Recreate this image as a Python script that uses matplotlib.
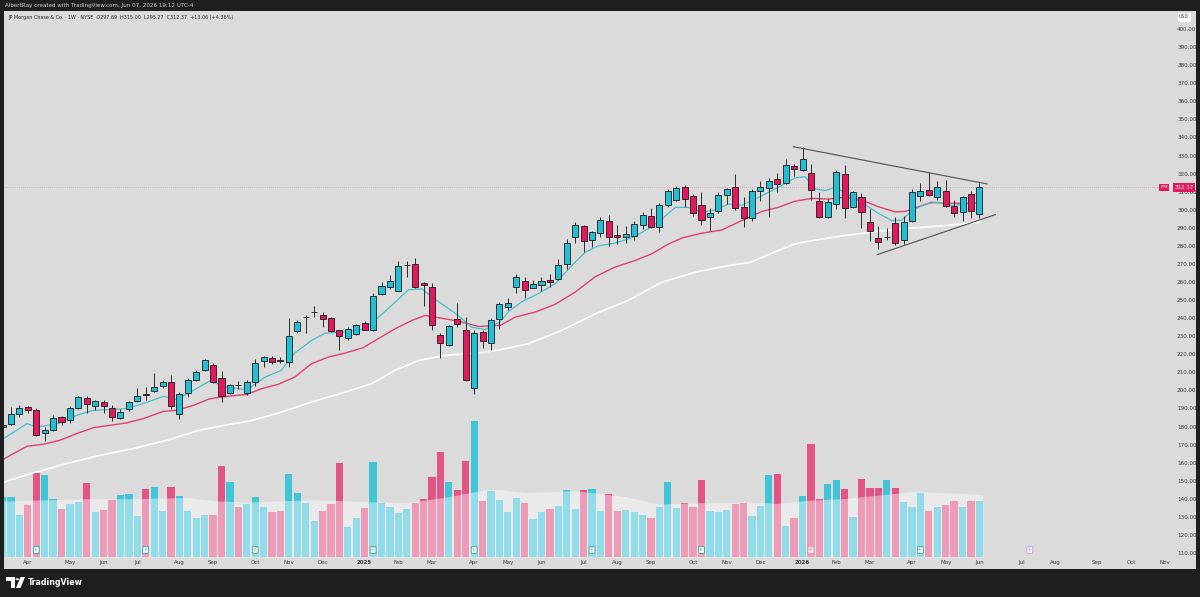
import matplotlib
matplotlib.use('Agg')
import matplotlib.pyplot as plt
import matplotlib.transforms as mtransforms
from matplotlib.patches import Rectangle, Circle, Polygon
from matplotlib.ticker import FuncFormatter
import numpy as np

plt.rcParams['font.family'] = ['DejaVu Sans']

# ---------------- data (weekly bars, first bar = week of 2024-03-11) ----------------
opens = [179.5, 181.6, 187.2, 190.8, 189.4, 176.5, 177.9, 185.1, 183.5, 190.5,
         195.6, 191.4, 193.6, 190.5, 184.9, 189.6, 194.2, 197.9, 199.5, 202.4,
         204.8, 187.2, 198.6, 205.9, 211.1, 214.0, 207.1, 198.6, 203.1, 198.5,
         204.6, 216.3, 218.1, 216.7, 215.7, 232.8, 240.6, 243.2, 242.0, 240.0,
         233.2, 228.8, 231.2, 237.4, 233.2, 253.3, 257.5, 255.3, 269.4, 270.0,
         259.2, 257.5, 230.4, 224.9, 239.5, 233.2, 201.5, 232.3, 226.2, 239.6,
         246.1, 257.5, 260.3, 256.8, 258.1, 261.0, 261.7, 270.0, 284.8, 291.2,
         283.3, 287.2, 294.0, 286.2, 284.8, 285.7, 291.8, 296.4, 290.7, 302.8,
         305.2, 312.8, 307.4, 302.8, 295.8, 299.5, 308.2, 312.4, 301.3, 295.5,
         310.2, 312.0, 317.0, 314.8, 324.2, 322.2, 320.3, 305.0, 296.2, 303.2,
         319.8, 301.3, 307.2, 293.4, 284.2, 284.8, 292.9, 283.0, 293.9, 307.8,
         310.9, 306.9, 310.6, 302.3, 298.6, 308.7, 297.69]
highs = [182.0, 190.8, 191.8, 191.2, 190.5, 179.8, 186.2, 185.7, 191.2, 196.7,
         196.7, 194.9, 194.5, 191.8, 189.9, 194.2, 201.5, 201.9, 209.6, 205.9,
         208.3, 199.1, 207.0, 211.1, 217.2, 215.2, 210.5, 203.7, 205.2, 205.6,
         217.6, 218.8, 218.8, 218.5, 240.2, 239.1, 241.5, 246.5, 243.3, 240.9,
         233.6, 235.0, 236.9, 238.4, 254.0, 259.9, 264.1, 271.5, 271.9, 273.2,
         259.8, 259.3, 231.7, 236.3, 248.5, 240.9, 233.2, 233.6, 240.2, 248.9,
         251.1, 264.5, 263.0, 261.2, 263.0, 264.5, 272.8, 283.8, 293.0, 291.8,
         288.4, 295.8, 297.3, 291.8, 291.2, 294.0, 298.6, 301.0, 303.5, 311.5,
         313.3, 313.9, 308.7, 309.6, 301.0, 309.6, 312.0, 319.8, 306.9, 311.5,
         315.7, 317.6, 320.1, 328.0, 325.3, 334.5, 325.3, 309.6, 305.9, 322.0,
         324.9, 310.6, 309.1, 300.4, 291.2, 289.9, 295.8, 296.7, 311.5, 315.0,
         320.7, 316.1, 316.4, 305.4, 307.8, 310.2, 315.00]
lows = [178.5, 180.7, 185.3, 187.5, 174.8, 172.1, 177.6, 180.7, 182.0, 189.9,
        187.5, 189.0, 187.5, 183.1, 184.4, 188.6, 193.6, 194.5, 199.1, 201.5,
        189.9, 184.4, 196.4, 205.2, 210.7, 204.1, 193.6, 197.8, 201.0, 197.3,
        202.3, 212.9, 214.8, 215.2, 212.9, 231.7, 231.7, 240.9, 235.0, 232.3,
        222.5, 227.7, 230.6, 233.2, 232.8, 252.9, 256.2, 254.9, 262.7, 256.8,
        247.0, 233.6, 218.1, 224.4, 235.0, 205.0, 198.2, 223.6, 222.2, 234.1,
        244.6, 253.8, 251.2, 256.6, 255.3, 257.5, 261.2, 267.3, 281.5, 276.5,
        279.2, 285.1, 280.2, 281.1, 281.5, 283.3, 289.4, 289.9, 287.5, 301.7,
        304.7, 301.7, 296.7, 291.8, 288.4, 298.3, 303.2, 299.9, 290.3, 294.0,
        305.0, 296.2, 309.6, 314.2, 318.8, 321.6, 305.4, 295.5, 295.5, 300.4,
        295.5, 300.8, 289.9, 282.9, 278.3, 283.5, 280.7, 281.1, 293.2, 305.0,
        307.8, 305.4, 301.3, 296.2, 294.0, 295.5, 295.27]
closes = [181.0, 187.2, 190.5, 189.4, 175.2, 178.3, 184.9, 182.6, 190.5, 196.4,
          192.3, 194.2, 191.4, 185.3, 188.3, 193.6, 197.1, 197.5, 202.1, 204.8,
          191.4, 198.2, 205.9, 210.2, 216.6, 204.8, 196.7, 203.0, 202.9, 204.7,
          215.3, 218.5, 215.7, 216.5, 229.9, 238.0, 240.9, 243.4, 239.6, 232.8,
          230.3, 233.8, 236.0, 233.6, 252.5, 257.9, 260.6, 268.9, 269.6, 257.5,
          258.1, 236.0, 226.2, 235.6, 236.9, 205.9, 231.9, 227.3, 238.7, 247.6,
          248.5, 262.7, 255.8, 259.0, 260.6, 259.9, 269.6, 281.6, 291.8, 282.6,
          287.5, 294.5, 285.1, 284.8, 286.6, 292.1, 297.3, 290.3, 302.8, 310.5,
          311.8, 306.0, 298.2, 294.5, 298.0, 308.3, 311.5, 301.0, 295.4, 310.6,
          312.4, 316.1, 314.2, 324.9, 322.5, 328.0, 310.9, 296.2, 304.5, 320.7,
          301.0, 309.6, 298.6, 288.1, 282.0, 285.0, 281.5, 293.4, 310.0, 310.6,
          308.3, 312.8, 302.3, 298.0, 306.9, 299.31, 312.37]
# weekly volume, millions (approx.)
volumes = [30.0, 30.2, 21.0, 26.0, 42.2, 41.0, 29.0, 24.0, 26.5, 27.4,
           37.2, 22.7, 23.7, 28.5, 31.0, 31.4, 20.5, 34.0, 35.2, 22.9,
           34.9, 30.7, 23.2, 19.5, 21.0, 21.2, 45.5, 37.4, 25.2, 26.5,
           30.2, 25.2, 22.7, 23.2, 41.5, 31.9, 27.2, 18.2, 23.2, 26.5,
           47.2, 15.2, 19.4, 24.7, 47.7, 26.9, 25.2, 22.2, 23.9, 26.9,
           29.2, 39.9, 52.7, 37.7, 33.5, 48.0, 68.2, 28.0, 33.2, 28.5,
           22.4, 29.4, 26.9, 19.0, 22.7, 24.0, 25.5, 33.5, 24.2, 33.5,
           34.0, 22.9, 31.5, 22.9, 23.5, 22.4, 21.0, 19.7, 25.2, 37.7,
           24.7, 26.9, 24.9, 38.5, 23.0, 22.7, 23.5, 26.5, 26.9, 20.7,
           25.7, 41.0, 41.4, 15.5, 19.4, 30.5, 56.5, 28.9, 36.5, 38.5,
           34.0, 19.9, 38.9, 34.4, 34.7, 38.5, 34.4, 27.7, 25.2, 31.9,
           23.2, 24.9, 26.0, 28.0, 25.2, 28.2, 28.0]
first_week = -1  # index of the first (partly hidden) bar

# volume moving average (week index, millions)
vol_ma_week = [-1, 3, 9, 15, 21, 24, 28, 36, 42, 47, 52, 56, 58, 61, 67, 73, 77,
               81, 88, 91, 95, 99, 103, 107, 111, 115.4]
vol_ma = [28.0, 28.5, 29.2, 29.2, 29.8, 28.2, 27.5, 28.8, 27.7, 27.2, 30.2, 33.5,
          33.8, 32.3, 33.2, 30.2, 26.5, 27.2, 27.5, 26.9, 28.5, 29.3, 31.0, 32.7,
          32.2, 31.3]

# moving averages of price (week index, value)
ma_fast_week = [-1, 1.9, 3.05, 3.84, 5.8, 7.8, 9.8, 11.8, 13.7, 15.7, 18.1, 19.7, 21.7,
                23.6, 25.6, 28.0, 30.2, 32.1, 33.7, 35.7, 37.3, 39.7, 41.6, 43.2, 45.2,
                47.2, 48.8, 50.0, 51.6, 53.1, 54.7, 56.3, 58.1, 59.1, 60.6, 62.6, 64.6,
                66.6, 68.2, 69.8, 71.7, 73.7, 75.7, 77.3, 78.9, 80.4, 82.0, 83.6, 85.2,
                86.8, 89.2, 91.1, 93.1, 94.3, 95.5, 96.7, 97.9, 99.0, 101.0, 103.0,
                104.6, 105.8, 107.0, 108.6, 110.1, 111.7, 113.3, 115.0]
ma_fast = [173.0, 181.6, 179.8, 180.2, 182.0, 186.2, 189.0, 189.4, 189.9, 192.7, 196.7,
           194.9, 200.1, 205.2, 201.9, 200.3, 207.4, 211.1, 220.7, 227.7, 231.7, 232.3,
           233.6, 238.7, 247.0, 255.7, 256.2, 251.6, 246.5, 241.5, 235.0, 233.7, 238.0,
           243.7, 248.9, 253.5, 259.0, 269.1, 276.5, 280.1, 281.5, 284.4, 289.4, 294.9,
           301.3, 301.3, 298.6, 299.9, 303.2, 302.5, 307.8, 312.4, 317.6, 318.3, 311.5,
           310.6, 312.4, 309.6, 304.1, 298.0, 294.0, 294.3, 299.5, 303.2, 304.1, 302.3,
           303.2, 304.1]
ma_mid_week = [-1, 1.9, 3.84, 5.8, 7.8, 9.8, 11.8, 13.7, 15.7, 18.1, 19.7, 21.7, 23.6,
               25.6, 28.0, 29.8, 31.75, 33.7, 35.7, 37.7, 39.7, 41.8, 43.6, 45.6, 47.6,
               49.2, 50.8, 53.1, 55.5, 58.1, 59.9, 62.2, 64.6, 67.0, 69.4, 71.7, 74.1,
               76.1, 78.1, 79.7, 82.0, 84.4, 86.8, 89.2, 91.1, 93.1, 95.1, 97.1, 99.0,
               101.0, 103.0, 105.0, 106.2, 107.8, 109.3, 110.9, 112.9, 115.0]
ma_mid = [161.7, 169.1, 170.2, 172.4, 176.1, 179.4, 180.7, 182.0, 184.4, 188.4, 189.0,
          191.8, 195.4, 196.7, 197.8, 201.0, 203.4, 207.4, 214.8, 218.5, 220.7, 223.6,
          228.6, 234.1, 238.7, 241.5, 240.2, 238.4, 235.4, 236.0, 240.6, 243.3, 247.6,
          254.4, 263.0, 268.2, 271.9, 275.6, 281.1, 284.4, 287.0, 288.8, 294.0, 299.1,
          301.3, 304.7, 306.3, 305.9, 306.9, 305.4, 301.7, 298.8, 299.1, 301.7, 304.1,
          303.6, 303.6, 303.6]
ma_slow_week = [-1, 2.65, 6.6, 10.6, 14.5, 18.5, 22.4, 26.4, 28.4, 31.75, 35.7, 39.7,
                42.8, 45.6, 48.4, 51.6, 55.5, 58.1, 61.4, 65.4, 69.4, 73.3, 77.3, 81.2,
                85.2, 87.8, 91.1, 93.1, 95.1, 99.0, 103.0, 107.0, 110.9, 115.0]
ma_slow = [149.0, 154.4, 159.5, 164.1, 167.8, 172.4, 178.0, 181.6, 183.1, 187.5, 193.6,
           199.1, 203.7, 211.1, 216.6, 219.4, 220.7, 222.5, 225.8, 233.2, 242.4, 249.8,
           259.9, 265.4, 269.1, 270.9, 277.4, 281.1, 282.9, 285.7, 288.1, 289.9, 291.2,
           293.1]

# trend lines drawn on the chart (week index, price)
upper_line_week = [92.9, 115.9]
upper_line_price = [334.9, 314.3]
lower_line_week = [102.9, 116.9]
lower_line_price = [275.2, 297.3]

# time axis: week index of the first bar of each month
month_week = [2, 7, 11, 15, 20, 24, 29, 33, 37, 42, 46, 50, 55, 59, 63, 68, 72, 76, 81,
              85, 89, 94, 98, 102, 107, 111, 115, 120, 124, 129, 133, 137]
month_labels = ['Apr', 'May', 'Jun', 'Jul', 'Aug', 'Sep', 'Oct', 'Nov', 'Dec', '2025',
                'Feb', 'Mar', 'Apr', 'May', 'Jun', 'Jul', 'Aug', 'Sep', 'Oct', 'Nov',
                'Dec', '2026', 'Feb', 'Mar', 'Apr', 'May', 'Jun', 'Jul', 'Aug', 'Sep',
                'Oct', 'Nov']
price_ticks = list(range(110, 401, 10))

earnings_week = [3, 16, 29, 43, 55, 69, 82, 95, 108, 121]
earnings_kind = ['up', 'up', 'up', 'up', 'up', 'up', 'up', 'down', 'up', 'future']

last_price = 312.37
header = 'AlbertRay created with TradingView.com, Jun 07, 2026 19:12 UTC-4'
legend = ('JP Morgan Chase & Co. \u00b7 1W \u00b7 NYSE  O297.69  H315.00  L295.27  '
          'C312.37  +13.06 (+4.36%)')

# ---------------- styling ----------------
W, H = 1200, 597
UP = '#22bfd4'
DN = '#e3195f'
UP_V = '#42c4d8'
DN_V = '#e35486'
FRAME = '#1e1e1e'
PANEL = '#dbdbdb'


def fx(px):
    return px / W


def fy(py):
    return 1 - py / H


fig = plt.figure(figsize=(W / 100, H / 100), dpi=100, facecolor=FRAME)

# light panel
fig.patches.append(Rectangle((fx(4), fy(569)), fx(1196) - fx(4), fy(11) - fy(569),
                             transform=fig.transFigure, facecolor=PANEL,
                             edgecolor='none', zorder=-5))

rect = [fx(4), fy(557), fx(1168) - fx(4), fy(11) - fy(557)]
vax = fig.add_axes(rect, zorder=1)
ax = fig.add_axes(rect, zorder=2)
for a in (vax, ax):
    a.set_facecolor('none')
    for s in a.spines.values():
        s.set_visible(False)

weeks = np.arange(len(opens)) + first_week
o = np.array(opens)
h = np.array(highs)
l = np.array(lows)
c = np.array(closes)
up = c >= o

xlim = (-0.83, 137.4)

# ---- volume
vax.set_xlim(*xlim)
vax.set_ylim(0, 273.5)
vcol = [UP_V if u else DN_V for u in up]
vax.bar(weeks, volumes, width=0.86, color=vcol, linewidth=0, zorder=2)
vax.fill_between(vol_ma_week, 0, vol_ma, color='white', alpha=0.42, lw=0, zorder=3)
vax.set_xticks([])
vax.set_yticks([])

# ---- price
ax.set_xlim(*xlim)
ax.set_ylim(107.8, 410.0)
ax.vlines(weeks, l, h, color='#2a2a2a', lw=0.7, zorder=3)
bottoms = np.minimum(o, c)
heights = np.maximum(np.abs(c - o), 0.25)
ax.bar(weeks, heights, bottom=bottoms, width=0.72,
       color=[UP if u else DN for u in up], edgecolor='#1c1c1c', linewidth=0.6,
       zorder=4)

ax.plot(ma_slow_week, ma_slow, color='#ffffff', lw=1.2, zorder=2)
ax.plot(ma_mid_week, ma_mid, color='#e0426f', lw=1.0, zorder=2)
ax.plot(ma_fast_week, ma_fast, color='#45c0c8', lw=0.9, zorder=2)

ax.plot(upper_line_week, upper_line_price, color='#505050', lw=0.8, zorder=5)
ax.plot(lower_line_week, lower_line_price, color='#505050', lw=0.8, zorder=5)

ax.axhline(last_price, color='#e3195f', lw=0.5, ls=(0, (1, 2)), alpha=0.5, zorder=1)

# axes ticks
ax.yaxis.tick_right()
ax.set_yticks(price_ticks)
ax.yaxis.set_major_formatter(FuncFormatter(lambda v, p: f'{v:.2f}'))
ax.tick_params(axis='y', length=0, pad=6.5, labelsize=4.1, labelcolor='#3a3a3a')
ax.set_xticks(month_week)
ax.set_xticklabels(month_labels)
ax.tick_params(axis='x', length=0, pad=2.2, labelsize=4.0, labelcolor='#3a3a3a')
for t in ax.get_xticklabels():
    if t.get_text() in ('2025', '2026'):
        t.set_fontweight('bold')

# earnings markers
bt = mtransforms.blended_transform_factory(ax.transData, ax.transAxes)
for wk, kind in zip(earnings_week, earnings_kind):
    ec, tc = {'up': ('#2aa198', '#2aa198'), 'down': ('#ec8fa8', '#e0406e'),
              'future': ('#c58fe0', '#a55cc8')}[kind]
    ax.text(wk, (557 - 550) / 547, 'E', transform=bt, ha='center', va='center',
            fontsize=3.2, color=tc, zorder=6,
            bbox=dict(boxstyle='round,pad=0.35', fc='white', ec=ec, lw=0.6))

# last price labels
yt = mtransforms.blended_transform_factory(fig.transFigure, ax.transData)
fig.text(fx(1184), last_price, '312.37', transform=yt, ha='center', va='center',
         fontsize=4.0, color='white', zorder=10,
         bbox=dict(boxstyle='square,pad=0.3', fc='#e3195f', ec='none'))
fig.text(fx(1164), last_price, 'JPM', transform=yt, ha='center', va='center',
         fontsize=3.2, color='white', zorder=10,
         bbox=dict(boxstyle='square,pad=0.3', fc='#e3195f', ec='none'))

# header / legend / misc text
fig.text(fx(5), fy(5), header, color='#cfcfcf', fontsize=4.1, va='center', ha='left')
fig.text(fx(8), fy(18), legend, color='#222222', fontsize=3.5, va='center', ha='left')
fig.text(fx(1184), fy(17), 'USD', color='#333333', fontsize=3.4, va='center',
         ha='center', bbox=dict(boxstyle='square,pad=0.5', fc='white', ec='#c8c8c8',
                                lw=0.4))

# TradingView logo
fig.patches.append(Polygon([(fx(6), fy(577)), (fx(14.5), fy(577)), (fx(14.5), fy(588)),
                            (fx(10.5), fy(588)), (fx(10.5), fy(580.5)), (fx(6), fy(580.5))],
                           closed=True, transform=fig.transFigure, fc='white', ec='none'))
fig.patches.append(Circle((fx(17.3), fy(579.2)), 1.9 / W, transform=fig.transFigure,
                          fc='white', ec='none'))
fig.patches.append(Polygon([(fx(20.5), fy(577)), (fx(25), fy(577)), (fx(20.5), fy(588)),
                            (fx(16), fy(588))], closed=True, transform=fig.transFigure,
                           fc='white', ec='none'))
fig.text(fx(28), fy(582.5), 'TradingView', color='white', fontsize=5.7,
         fontweight='semibold', va='center', ha='left')

fig.savefig('out.png', dpi=100, facecolor=FRAME)
